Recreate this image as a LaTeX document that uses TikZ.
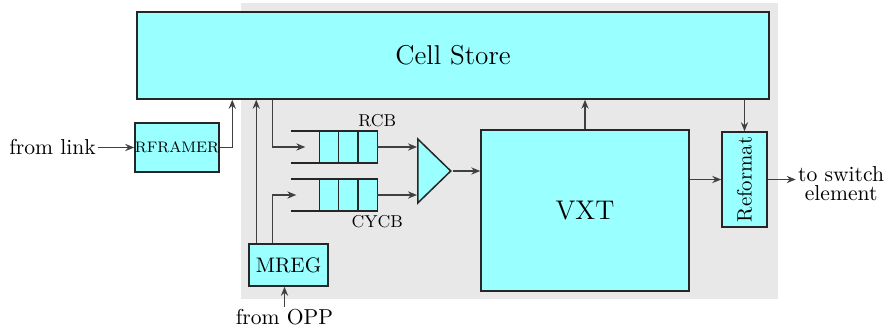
\documentclass[tikz,border=0pt]{standalone}
\usetikzlibrary{arrows.meta, positioning, shapes.geometric}
\definecolor{cellcyan}{RGB}{153,255,255}
\definecolor{bggray}{RGB}{232,232,232}
\definecolor{linegray}{RGB}{64,64,64}

\begin{document}
\begin{tikzpicture}[>={Stealth[length=4.5pt,width=3.6pt]}, x=0.5pt, y=-0.5pt,
      box/.style={draw=black!85, line width=0.75pt, fill=cellcyan, inner sep=0pt},
      cell/.style={draw=black!85, line width=0.75pt, fill=cellcyan, inner sep=0pt, outer sep=0pt,
                   minimum width=9.67pt, minimum height=16pt},
      mux/.style={draw=black!85, line width=0.75pt, fill=cellcyan, isosceles triangle,
                  isosceles triangle stretches, inner sep=0pt, minimum width=32pt, minimum height=16.5pt},
      lbl/.style={font=\fontsize{10.8}{9.5}\selectfont, inner sep=1pt, align=center},
      qlbl/.style={font=\fontsize{8.6}{10}\selectfont, inner sep=1pt},
      qline/.style={draw=black!85, line width=0.75pt},
      arr/.style={->, line width=0.7pt, linegray}]
    \useasboundingbox (0,0) rectangle (888,326);
    \fill[bggray] (241,3) rectangle (778,299);
    \node[box, minimum width=316pt, minimum height=43.5pt, font=\fontsize{13.6}{15}\selectfont] (cellstore) at (453,55.5) {Cell Store};
    \node[box, minimum width=40pt, minimum height=24.5pt, font=\fontsize{7.6}{9}\selectfont] (rframer) at (177,147.5) {RFRAMER};
    \node[lbl, left=18pt of rframer] (fromlink) {from link};
    \node[box, minimum width=39.5pt, minimum height=21pt, font=\fontsize{10.5}{12}\selectfont] (mreg) at (288.5,265) {MREG};
    \node[lbl, below=10pt of mreg, xshift=-2pt] (fromopp) {from OPP};
    \foreach \q/\y in {rcb/147, cycb/195} {
      \node[cell] (\q1) at (329,\y) {};
      \node[cell, right=0pt of \q1] (\q2) {};
      \node[cell, right=0pt of \q2] (\q3) {};
      \draw[qline] ([xshift=-14pt]\q1.north west) -- (\q3.north east);
      \draw[qline] ([xshift=-14pt]\q1.south west) -- (\q3.south east);
    }
    \node[qlbl, above=1pt of rcb3.north east] (rcblbl) {RCB};
    \node[qlbl, below=1pt of cycb3.south east] (cycblbl) {CYCB};
    \node[mux, anchor=west] (mux) at (417,171) {};
    \node[box, minimum width=104pt, minimum height=80.5pt, font=\fontsize{13.5}{15}\selectfont] (vxt) at (585,210.5) {VXT};
    \node[box, minimum width=22.5pt, minimum height=47.5pt, font=\fontsize{10.4}{12}\selectfont] (reformat) at (744.5,179.5) {\rotatebox{90}{Reformat}};
    \node[lbl, right=14pt of reformat, yshift=-2pt] (toswitch) {to switch\\element};
    % arrows
    \draw[arr] (fromlink) -- (rframer);
    \draw[arr] (rframer.east) -| ([xshift=48pt]cellstore.south west);
    \draw[arr] ([xshift=4pt]mreg.north west) -- ([xshift=4pt]mreg.north west |- cellstore.south);
    \draw[arr] ([xshift=12pt]mreg.north west) |- ([xshift=-11.5pt]cycb1.west);
    \draw[arr] ([xshift=68pt]cellstore.south west) |- ([xshift=-7pt]rcb1.west);
    \draw[arr] (rcb3.east) -- (rcb3.east -| mux.west);
    \draw[arr] (cycb3.east) -- (cycb3.east -| mux.west);
    \draw[arr] (mux.apex) -- (mux.apex -| vxt.west);
    \draw[arr] (vxt.north) -- (vxt.north |- cellstore.south);
    \draw[arr] (reformat.north |- cellstore.south) -- (reformat.north);
    \draw[arr] (reformat.west -| vxt.east) -- (reformat.west);
    \draw[arr] (reformat.east) -- (reformat.east -| toswitch.west);
    \draw[arr] (fromopp.north) -- (fromopp.north |- mreg.south);
  \end{tikzpicture}
\end{document}
